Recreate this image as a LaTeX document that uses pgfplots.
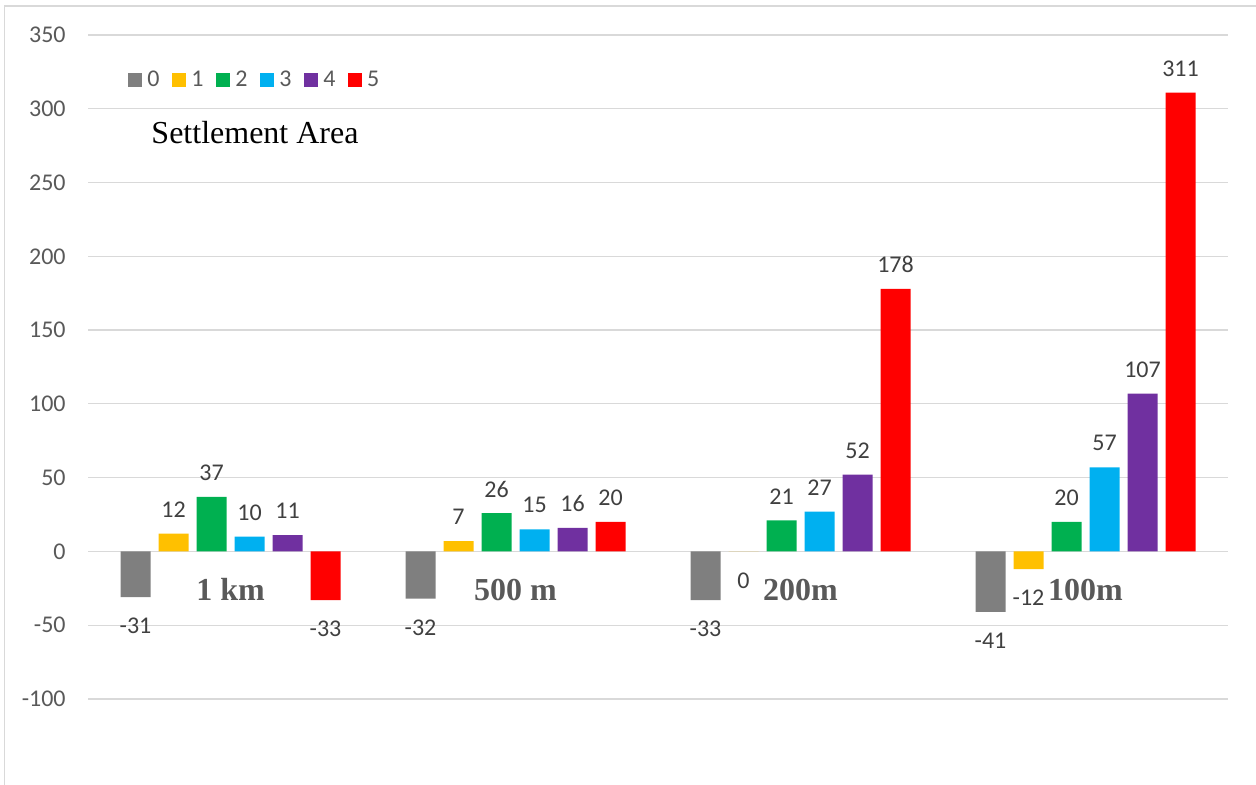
\documentclass[border=0pt]{standalone}
\usepackage{pgfplots}
\pgfplotsset{compat=1.18}
\usepackage{fontspec}
\setmainfont{Carlito}
\newfontfamily\tnr{Liberation Serif}
\definecolor{c0}{HTML}{7F7F7F}
\definecolor{c1}{HTML}{FFC000}
\definecolor{c2}{HTML}{00B050}
\definecolor{c3}{HTML}{00B0F0}
\definecolor{c4}{HTML}{7030A0}
\definecolor{c5}{HTML}{FF0000}
\definecolor{gridgray}{HTML}{D9D9D9}
\definecolor{ticktext}{HTML}{595959}
\definecolor{valtext}{HTML}{404040}
\newcommand\lbl{\fontsize{12pt}{14pt}\selectfont}
\begin{document}
\begin{tikzpicture}
\useasboundingbox (0,0) rectangle (628pt,392.5pt);
\draw[color=gridgray, line width=0.7pt] (2.25pt,0) -- (2.25pt,389.5pt) -- (628pt,389.5pt);
\begin{axis}[
  at={(44pt,43pt)}, anchor=south west,
  scale only axis, width=570pt, height=332pt,
  xmin=-0.5, xmax=3.5, ymin=-100, ymax=350,
  ytick={-100,-50,...,350},
  xtick=\empty,
  major tick length=0pt,
  axis line style={draw=none},
  ymajorgrids, major grid style={color=gridgray, line width=0.6pt},
  /pgf/number format/assume math mode=true,
  yticklabel style={font=\lbl, color=ticktext, anchor=east, inner xsep=0pt, xshift=-11pt},
  ybar=4pt, bar width=15pt,
  clip=false,
  point meta=explicit symbolic,
  visualization depends on={y \as \rawy},
  nodes near coords,
  every node near coord/.append style={font=\lbl, color=valtext, inner sep=0pt, anchor=center,
     yshift={ifthenelse(\rawy<0,-14.5,12)*1pt}},
  legend columns=6,
  legend image code/.code={\fill[#1] (0pt,-3.5pt) rectangle (7pt,3.5pt);},
  legend style={at={(axis description cs:0.0351,0.932)}, anchor=west, draw=none, fill=none, inner sep=0pt,
    font=\lbl, text=ticktext,
    nodes={inner xsep=2.5pt, inner ysep=0pt},
    /tikz/every even column/.append style={column sep=3.9pt}},
]
\addplot[fill=c0, draw=none] coordinates {(0,-31) [-31] (1,-32) [-32] (2,-33) [-33] (3,-41) [-41]};
\addplot[fill=c1, draw=none] coordinates {(0,12) [12] (1,7) [7] (2,-0.01) [0] (3,-12) [-12]};
\addplot[fill=c2, draw=none] coordinates {(0,37) [37] (1,26) [26] (2,21) [21] (3,20) [20]};
\addplot[fill=c3, draw=none] coordinates {(0,10) [10] (1,15) [15] (2,27) [27] (3,57) [57]};
\addplot[fill=c4, draw=none] coordinates {(0,11) [11] (1,16) [16] (2,52) [52] (3,107) [107]};
\addplot[fill=c5, draw=none] coordinates {(0,-33) [-33] (1,20) [20] (2,178) [178] (3,311) [311]};
\legend{0,1,2,3,4,5}
\node[anchor=base, font={\tnr\fontsize{16pt}{18pt}\selectfont}] at (axis cs:0.086,276.2) {Settlement Area};
\node[anchor=base, color=ticktext, font={\tnr\bfseries\fontsize{16pt}{18pt}\selectfont}] at (axis cs:0,-33.3) {1 km};
\node[anchor=base, color=ticktext, font={\tnr\bfseries\fontsize{16pt}{18pt}\selectfont}] at (axis cs:1,-33.3) {500 m};
\node[anchor=base, color=ticktext, font={\tnr\bfseries\fontsize{16pt}{18pt}\selectfont}] at (axis cs:2,-33.3) {200m};
\node[anchor=base, color=ticktext, font={\tnr\bfseries\fontsize{16pt}{18pt}\selectfont}] at (axis cs:3,-33.3) {100m};
\end{axis}
\end{tikzpicture}
\end{document}
